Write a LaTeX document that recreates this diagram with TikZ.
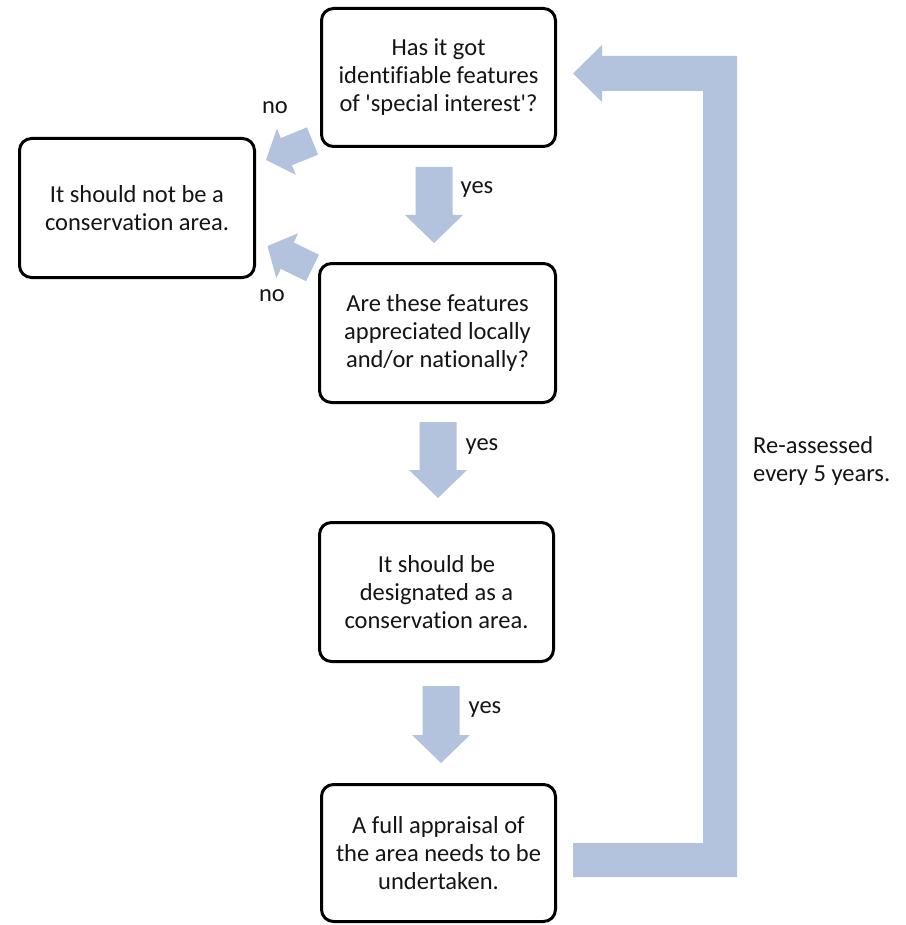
\documentclass[tikz,border=0pt]{standalone}
\usepackage{fontspec}
\setmainfont{Carlito}[Ligatures={TeX,NoCommon}]
\usetikzlibrary{calc}
\definecolor{arrowblue}{RGB}{179,195,222}
\definecolor{txt}{RGB}{20,20,20}
\newcommand\blockarrow[5]{%
  \fill[arrowblue] ($(#1)!#3!90:(#2)$) -- ($($(#2)!#5!(#1)$)!#3!90:(#2)$)
    -- ($($(#2)!#5!(#1)$)!#4!90:(#2)$) -- (#2)
    -- ($($(#2)!#5!(#1)$)!#4!-90:(#2)$) -- ($($(#2)!#5!(#1)$)!#3!-90:(#2)$)
    -- ($(#1)!#3!-90:(#2)$) -- cycle;}
\begin{document}
\begin{tikzpicture}[x=1pt,y=-1pt,
  box/.style={draw=black, line width=3pt, rounded corners=12pt, fill=white,
    align=center, text=txt, font=\fontsize{24.5}{28}\selectfont, inner sep=0pt},
  lbl/.style={text=txt, font=\fontsize{24.5}{28}\selectfont, inner sep=0pt}]
\useasboundingbox (0,0) rectangle (905,925);
\node[box, minimum width=234pt, minimum height=138pt] (q1) at (438.5,77.5)
  {Has it got\\identifiable features\\of \textquotesingle special interest\textquotesingle?};
\node[box, minimum width=235pt, minimum height=139pt] (notc) at (137,208)
  {It should not be a\\conservation area.};
\node[box, minimum width=236pt, minimum height=139pt] (q2) at (437.5,333)
  {Are these features\\appreciated locally\\and/or nationally?};
\node[box, minimum width=234pt, minimum height=139pt] (des) at (436.5,592)
  {It should be\\designated as a\\conservation area.};
\node[box, minimum width=234pt, minimum height=137pt] (app) at (438.5,853)
  {A full appraisal of\\the area needs to be\\undertaken.};
% arrow end points
\coordinate (a1t) at (434,167); \coordinate (a1p) at (434,243);
\coordinate (a2t) at (438,422); \coordinate (a2p) at (438,498);
\coordinate (a3t) at (441,686); \coordinate (a3p) at (441,763);
\coordinate (n1t) at (312.5,141); \coordinate (n1p) at (266,160);
\coordinate (n2t) at (312.5,268); \coordinate (n2p) at (267.5,246);
\blockarrow{a1t}{a1p}{18.5pt}{29pt}{28pt}
\blockarrow{a2t}{a2p}{18.5pt}{29pt}{28pt}
\blockarrow{a3t}{a3p}{18.5pt}{29pt}{28pt}
\blockarrow{n1t}{n1p}{14.7pt}{25pt}{22pt}
\blockarrow{n2t}{n2p}{14.7pt}{25pt}{22pt}
% return arrow
\coordinate (rt) at (573,73.5);
\fill[arrowblue] (573,843) -- (703,843) -- (703,91) -- (602,91) -- (602,102)
  -- (rt) -- (602,45) -- (602,56) -- (737,56) -- (737,877) -- (573,877) -- cycle;
% labels
\node[lbl] (no1) at (275,108) {no};
\node[lbl] (no2) at (272,296) {no};
\node[lbl] (y1) at (477,190) {yes};
\node[lbl] (y2) at (482,447) {yes};
\node[lbl] (y3) at (485,710) {yes};
\node[lbl, align=left, anchor=west] (re) at (753,461) {Re-assessed\\every 5 years.};
\end{tikzpicture}
\end{document}
